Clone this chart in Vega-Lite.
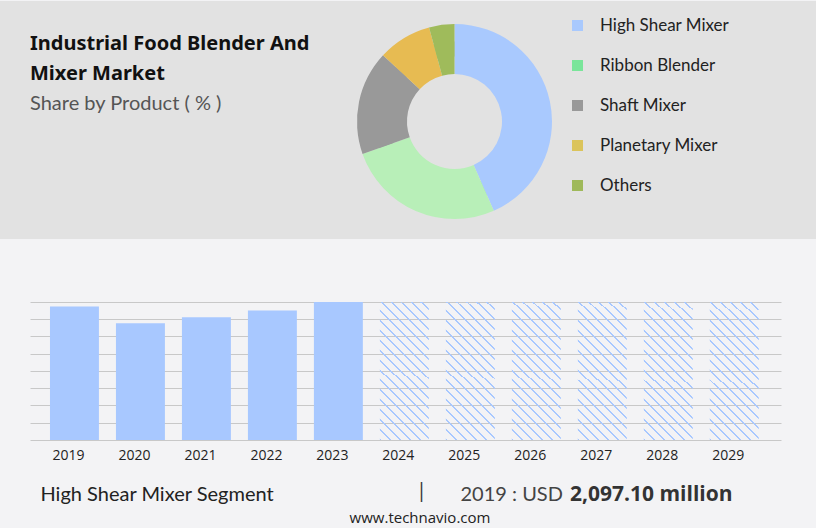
{
  "$schema": "https://vega.github.io/schema/vega-lite/v6.json",
  "background": "#f3f3f5",
  "padding": {"left": 0, "right": 0, "top": 1, "bottom": 2},
  "spacing": 61,
  "datasets": {
    "share": [
      {"product": "High Shear Mixer", "share": 43.4},
      {"product": "Ribbon Blender", "share": 26.2},
      {"product": "Shaft Mixer", "share": 17.3},
      {"product": "Planetary Mixer", "share": 8.9},
      {"product": "Others", "share": 4.2}
    ],
    "segment": [
      {"year": "2019", "value": 2097.1, "period": "historic"},
      {"year": "2020", "value": 1834, "period": "historic"},
      {"year": "2021", "value": 1927, "period": "historic"},
      {"year": "2022", "value": 2035, "period": "historic"},
      {"year": "2023", "value": 2170, "period": "historic"},
      {"year": "2024", "value": 2170, "period": "forecast"},
      {"year": "2025", "value": 2170, "period": "forecast"},
      {"year": "2026", "value": 2170, "period": "forecast"},
      {"year": "2027", "value": 2170, "period": "forecast"},
      {"year": "2028", "value": 2170, "period": "forecast"},
      {"year": "2029", "value": 2170, "period": "forecast"}
    ]
  },
  "title": {
    "text": "www.technavio.com",
    "orient": "bottom",
    "anchor": "middle",
    "dx": 12,
    "offset": 6,
    "font": "Open Sans",
    "fontSize": 15,
    "fontWeight": "normal",
    "color": "#222"
  },
  "vconcat": [
    {
      "width": 816,
      "height": 238,
      "view": {"fill": "#e2e2e2", "stroke": null},
      "title": {
        "text": ["Industrial Food Blender And", "Mixer Market"],
        "subtitle": "Share by Product ( % )",
        "orient": "top",
        "anchor": "start",
        "frame": "group",
        "dx": 30,
        "offset": -113,
        "font": "Noto Sans",
        "fontSize": 20,
        "fontWeight": "bold",
        "color": "#111",
        "lineHeight": 30,
        "subtitleFont": "Lato",
        "subtitleFontSize": 20,
        "subtitleColor": "#555",
        "subtitlePadding": 10
      },
      "data": {"name": "share"},
      "encoding": {
        "theta": {"field": "share", "type": "quantitative", "stack": true},
        "order": {"field": "share", "sort": "descending"}
      },
      "layer": [
        {
          "mark": {"type": "arc", "x": 454.5, "y": 120.5, "outerRadius": 80, "innerRadius": 65},
          "encoding": {
            "fill": {
              "field": "product",
              "type": "nominal",
              "scale": {
                "domain": ["High Shear Mixer", "Ribbon Blender", "Shaft Mixer", "Planetary Mixer", "Others"],
                "range": ["#a9c9fd", "#7ae59a", "#999999", "#dbc45b", "#9fb95a"]
              },
              "legend": {
                "orient": "none",
                "legendX": 569,
                "legendY": 16,
                "title": null,
                "padding": 0,
                "symbolType": "square",
                "symbolSize": 121,
                "symbolStrokeWidth": 0,
                "symbolOpacity": 1,
                "labelFont": "Lato",
                "labelFontSize": 17,
                "labelColor": "#222",
                "labelOffset": 14,
                "rowPadding": 22
              }
            }
          }
        },
        {
          "mark": {"type": "arc", "x": 454.5, "y": 120.5, "outerRadius": 97.5, "innerRadius": 47.5},
          "encoding": {
            "color": {
              "field": "product",
              "type": "nominal",
              "scale": {
                "domain": ["High Shear Mixer", "Ribbon Blender", "Shaft Mixer", "Planetary Mixer", "Others"],
                "range": ["#a9c9fe", "#b8efb8", "#999999", "#e7bb52", "#9fbb5b"]
              },
              "legend": null
            }
          }
        }
      ]
    },
    {
      "width": 816,
      "height": 140,
      "data": {"name": "segment"},
      "title": {
        "text": "2,097.10 million",
        "orient": "bottom",
        "anchor": "start",
        "frame": "group",
        "dx": 570,
        "offset": -20,
        "font": "Open Sans",
        "fontSize": 21,
        "fontWeight": "bold",
        "color": "#333"
      },
      "encoding": {
        "x": {
          "field": "year",
          "type": "ordinal",
          "scale": {
            "domain": ["2019", "2020", "2021", "2022", "2023", "2024", "2025", "2026", "2027", "2028", "2029"],
            "range": [30, 781],
            "paddingInner": 0.258,
            "paddingOuter": 0.32,
            "align": 0.473
          },
          "axis": {
            "title": "High Shear Mixer Segment",
            "titleX": 40,
            "titleY": 60,
            "titleAlign": "left",
            "titleBaseline": "alphabetic",
            "titleFont": "Lato",
            "titleFontSize": 20,
            "titleFontWeight": "normal",
            "titleColor": "#222",
            "labelFont": "Open Sans",
            "labelFontSize": 14,
            "labelColor": "#222",
            "labelPadding": 8,
            "labelOffset": -6,
            "labelAngle": 0,
            "ticks": false,
            "domain": false,
            "grid": false
          }
        }
      },
      "layer": [
        {
          "transform": [{"filter": "datum.period === 'historic'"}],
          "mark": {"type": "bar", "fill": "#a8c8ff"},
          "encoding": {
            "y": {
              "field": "value",
              "type": "quantitative",
              "scale": {"domain": [0, 2170]},
              "axis": {
                "orient": "left",
                "values": [0, 271.25, 542.5, 813.75, 1085, 1356.25, 1627.5, 1898.75, 2170],
                "grid": true,
                "gridColor": "#c8c8c8",
                "gridWidth": 1,
                "labels": false,
                "ticks": false,
                "domain": false,
                "title": "|",
                "titleAngle": 0,
                "titleX": 421,
                "titleY": 190,
                "titleAlign": "center",
                "titleBaseline": "middle",
                "titleFont": "Open Sans",
                "titleFontSize": 20,
                "titleFontWeight": "normal",
                "titleColor": "#333"
              }
            }
          }
        },
        {
          "transform": [{"filter": "datum.period === 'forecast'"}],
          "mark": {
            "type": "bar",
            "fill": {
              "gradient": "linear",
              "x1": 0, "y1": 1, "x2": 0.421, "y2": -0.203,
              "stops": [
                {"offset": 0, "color": "#a8c8ff"}, {"offset": 0.0106, "color": "#a8c8ff"}, {"offset": 0.0106, "color": "rgba(168,200,255,0)"}, {"offset": 0.0529, "color": "rgba(168,200,255,0)"},
                {"offset": 0.0529, "color": "#a8c8ff"}, {"offset": 0.0635, "color": "#a8c8ff"}, {"offset": 0.0635, "color": "rgba(168,200,255,0)"}, {"offset": 0.1058, "color": "rgba(168,200,255,0)"},
                {"offset": 0.1058, "color": "#a8c8ff"}, {"offset": 0.1164, "color": "#a8c8ff"}, {"offset": 0.1164, "color": "rgba(168,200,255,0)"}, {"offset": 0.1587, "color": "rgba(168,200,255,0)"},
                {"offset": 0.1587, "color": "#a8c8ff"}, {"offset": 0.1693, "color": "#a8c8ff"}, {"offset": 0.1693, "color": "rgba(168,200,255,0)"}, {"offset": 0.2116, "color": "rgba(168,200,255,0)"},
                {"offset": 0.2116, "color": "#a8c8ff"}, {"offset": 0.2222, "color": "#a8c8ff"}, {"offset": 0.2222, "color": "rgba(168,200,255,0)"}, {"offset": 0.2646, "color": "rgba(168,200,255,0)"},
                {"offset": 0.2646, "color": "#a8c8ff"}, {"offset": 0.2751, "color": "#a8c8ff"}, {"offset": 0.2751, "color": "rgba(168,200,255,0)"}, {"offset": 0.3175, "color": "rgba(168,200,255,0)"},
                {"offset": 0.3175, "color": "#a8c8ff"}, {"offset": 0.3280, "color": "#a8c8ff"}, {"offset": 0.3280, "color": "rgba(168,200,255,0)"}, {"offset": 0.3704, "color": "rgba(168,200,255,0)"},
                {"offset": 0.3704, "color": "#a8c8ff"}, {"offset": 0.3810, "color": "#a8c8ff"}, {"offset": 0.3810, "color": "rgba(168,200,255,0)"}, {"offset": 0.4233, "color": "rgba(168,200,255,0)"},
                {"offset": 0.4233, "color": "#a8c8ff"}, {"offset": 0.4339, "color": "#a8c8ff"}, {"offset": 0.4339, "color": "rgba(168,200,255,0)"}, {"offset": 0.4762, "color": "rgba(168,200,255,0)"},
                {"offset": 0.4762, "color": "#a8c8ff"}, {"offset": 0.4868, "color": "#a8c8ff"}, {"offset": 0.4868, "color": "rgba(168,200,255,0)"}, {"offset": 0.5291, "color": "rgba(168,200,255,0)"},
                {"offset": 0.5291, "color": "#a8c8ff"}, {"offset": 0.5397, "color": "#a8c8ff"}, {"offset": 0.5397, "color": "rgba(168,200,255,0)"}, {"offset": 0.5820, "color": "rgba(168,200,255,0)"},
                {"offset": 0.5820, "color": "#a8c8ff"}, {"offset": 0.5926, "color": "#a8c8ff"}, {"offset": 0.5926, "color": "rgba(168,200,255,0)"}, {"offset": 0.6349, "color": "rgba(168,200,255,0)"},
                {"offset": 0.6349, "color": "#a8c8ff"}, {"offset": 0.6455, "color": "#a8c8ff"}, {"offset": 0.6455, "color": "rgba(168,200,255,0)"}, {"offset": 0.6878, "color": "rgba(168,200,255,0)"},
                {"offset": 0.6878, "color": "#a8c8ff"}, {"offset": 0.6984, "color": "#a8c8ff"}, {"offset": 0.6984, "color": "rgba(168,200,255,0)"}, {"offset": 0.7407, "color": "rgba(168,200,255,0)"},
                {"offset": 0.7407, "color": "#a8c8ff"}, {"offset": 0.7513, "color": "#a8c8ff"}, {"offset": 0.7513, "color": "rgba(168,200,255,0)"}, {"offset": 0.7937, "color": "rgba(168,200,255,0)"},
                {"offset": 0.7937, "color": "#a8c8ff"}, {"offset": 0.8042, "color": "#a8c8ff"}, {"offset": 0.8042, "color": "rgba(168,200,255,0)"}, {"offset": 0.8466, "color": "rgba(168,200,255,0)"},
                {"offset": 0.8466, "color": "#a8c8ff"}, {"offset": 0.8571, "color": "#a8c8ff"}, {"offset": 0.8571, "color": "rgba(168,200,255,0)"}, {"offset": 0.8995, "color": "rgba(168,200,255,0)"},
                {"offset": 0.8995, "color": "#a8c8ff"}, {"offset": 0.9101, "color": "#a8c8ff"}, {"offset": 0.9101, "color": "rgba(168,200,255,0)"}, {"offset": 0.9524, "color": "rgba(168,200,255,0)"},
                {"offset": 0.9524, "color": "#a8c8ff"}, {"offset": 0.9630, "color": "#a8c8ff"}, {"offset": 0.9630, "color": "rgba(168,200,255,0)"}, {"offset": 1, "color": "rgba(168,200,255,0)"}
              ]
            }
          },
          "encoding": {
            "y": {
              "field": "value",
              "type": "quantitative",
              "axis": {
                "orient": "right",
                "grid": false,
                "labels": false,
                "ticks": false,
                "domain": false,
                "title": "2019 : USD",
                "titleAngle": 0,
                "titleX": -356,
                "titleY": 200,
                "titleAlign": "left",
                "titleBaseline": "alphabetic",
                "titleFont": "Lato",
                "titleFontSize": 20,
                "titleFontWeight": "normal",
                "titleColor": "#444"
              }
            }
          }
        }
      ],
      "resolve": {"axis": {"y": "independent"}}
    }
  ],
  "config": {
    "view": {"stroke": null}
  }
}
